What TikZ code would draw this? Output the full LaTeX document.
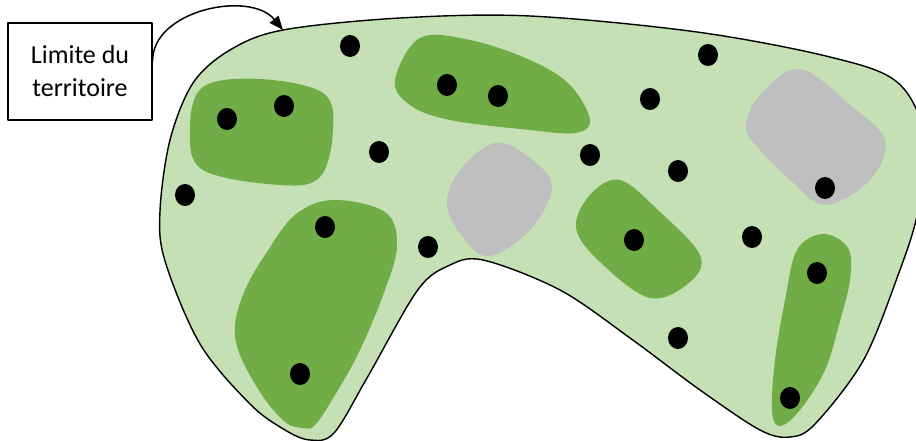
\documentclass[tikz,border=0pt]{standalone}
\usepackage{fontspec}
\setmainfont{Carlito}
\usetikzlibrary{arrows.meta}
\definecolor{terrain}{HTML}{C5E0B4}
\definecolor{parcelle}{HTML}{70AD47}
\definecolor{bati}{HTML}{BFBFBF}
\begin{document}
\begin{tikzpicture}[x=1pt,y=-1pt,line cap=round,line join=round]
  \useasboundingbox (0,0) rectangle (916,441);
  \draw[line width=1.4pt,fill=terrain] plot[smooth cycle,tension=0.55] coordinates {
    (283,30) (400,18) (530,16) (697,32) (830,57) (897,82) (924,135) (918,211)
    (897,278) (863,361) (815,424) (790,437) (760,430) (700,390)
    (630,338) (560,290) (483,260) (448,266) (417,291) (367,378) (334,433)
    (310,440) (285,430) (250,404) (200,344) (165,261) (160,211) (170,140)
    (193,83) (230,50)};
  \fill[parcelle] plot[smooth cycle,tension=0.6] coordinates {
    (203,87) (260,79) (323,93) (333,130) (320,177) (280,185) (203,170) (190,130)};
  \fill[parcelle] plot[smooth cycle,tension=0.6] coordinates {
    (395,80) (420,38) (470,40) (530,60) (570,85) (590,120) (575,133) (530,130)
    (450,120) (410,105)};
  \fill[parcelle] plot[smooth cycle,tension=0.6] coordinates {
    (333,200) (385,212) (397,245) (385,290) (360,350) (335,395) (315,425)
    (303,428) (285,422) (262,395) (240,355) (235,325) (245,290) (265,255) (295,215)};
  \fill[parcelle] plot[smooth cycle,tension=0.6] coordinates {
    (620,180) (660,212) (700,255) (690,282) (650,298) (600,262) (576,228) (590,195)};
  \fill[parcelle] plot[smooth cycle,tension=0.6] coordinates {
    (823,234) (848,248) (850,280) (840,321) (825,370) (800,410) (780,426)
    (772,411) (775,360) (785,300) (797,250)};
  \fill[bati] plot[smooth cycle,tension=0.6] coordinates {
    (495,143) (530,158) (552,187) (530,230) (490,256) (465,240) (447,205) (460,170)};
  \fill[bati] plot[smooth cycle,tension=0.6] coordinates {
    (800,69) (850,105) (885,140) (870,180) (825,205) (790,180) (760,150)
    (746,127) (760,95)};
  \foreach \x/\y in {350/46,227/119,284/106,447/85,498/96,379/152,185/195,
    325/227,708/55,650/99,590/155,678/171,825/188,752/237,634/240,817/273,
    678/338,790/398,428/247,300/374} {
    \fill (\x,\y) ellipse (10 and 11);
  }
  \node[draw,line width=1.2pt,minimum width=144pt,minimum height=97pt,
    align=center,font=\fontsize{26}{33}\selectfont] (limite) at (80,71.5)
    {Limite du\\territoire};
  \coordinate (bord) at (283,30);
  \draw[line width=1.5pt,-{Triangle[length=14pt,width=11pt]}]
    (limite.8) .. controls (152,10) and (250,-10) .. (bord);
\end{tikzpicture}
\end{document}
